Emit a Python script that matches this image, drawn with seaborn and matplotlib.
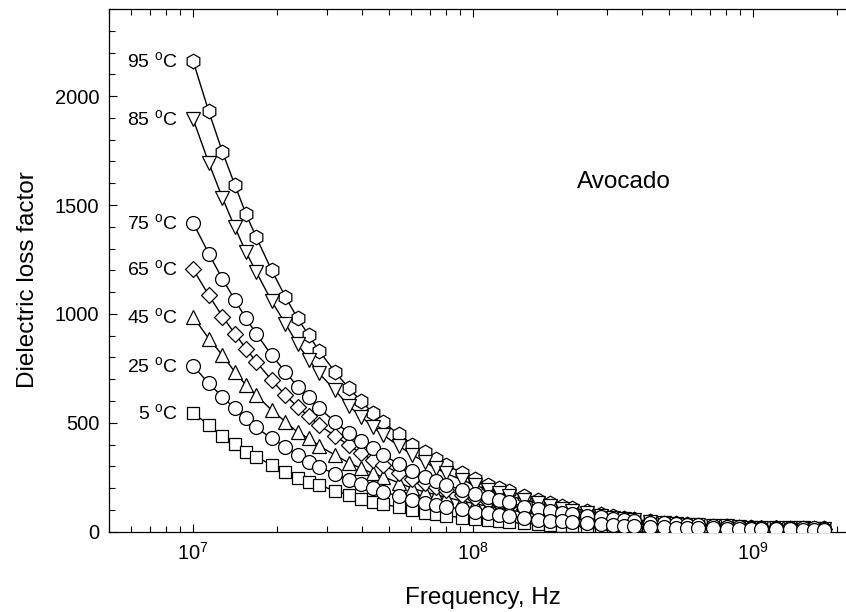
import matplotlib
matplotlib.use('Agg')
import numpy as np
import matplotlib.pyplot as plt
from matplotlib.ticker import MultipleLocator
import seaborn as sns

# ── data ──────────────────────────────────────────────────
freq_mhz = [10, 11.36, 12.72, 14.07, 15.43, 16.79, 19.07, 21.35, 23.62, 25.90,
            28.18, 32.08, 35.99, 39.89, 43.80, 47.70, 54.18, 60.66, 67.14, 73.62,
            80.10, 90.98, 101.86, 112.74, 123.62, 134.5, 152.6, 170.8, 188.9, 207.1,
            225.2, 255.5, 285.8, 316.2, 346.5, 376.8, 428.4, 479.9, 531.5, 583.0,
            634.6, 721.3, 808.0, 894.6, 981.3, 1068, 1213.4, 1358.8, 1504.2, 1649.6,
            1795]

loss_95 = [2159, 1930, 1743, 1594, 1459, 1352, 1200, 1078, 979, 901,
           830, 734, 659, 598, 546, 503, 448, 399, 364, 332,
           306, 271, 242, 215, 200, 188, 162, 146, 133, 118,
           107, 95, 82, 70, 63, 57, 48, 42, 38, 35,
           33, 28, 26, 23, 21, 19, 18, 17, 16, 15, 15]
loss_85 = [1893, 1694, 1532, 1399, 1284, 1193, 1058, 955, 860, 790,
           727, 650, 577, 528, 482, 444, 395, 352, 321, 291,
           268, 238, 214, 192, 178, 166, 145, 130, 118, 106,
           96, 85, 74, 64, 57, 52, 44, 39, 35, 32,
           30, 26, 24, 21, 19, 18, 17, 16, 15, 14, 14]
loss_75 = [1417, 1277, 1160, 1065, 979, 910, 810, 734, 665, 617,
           567, 505, 452, 417, 384, 352, 312, 281, 252, 231,
           216, 191, 174, 158, 145, 135, 113, 102, 94, 86,
           80, 74, 66, 59, 53, 49, 42, 38, 34, 31,
           30, 26, 23, 20, 19, 18, 17, 16, 15, 15, 14]
loss_65 = [1204, 1086, 988, 910, 841, 780, 696, 627, 572, 530,
           489, 441, 396, 360, 328, 305, 270, 244, 224, 206,
           191, 170, 155, 141, 130, 121, 106, 95, 86, 78,
           72, 63, 56, 50, 46, 42, 36, 32, 29, 27,
           25, 22, 20, 18, 17, 16, 15, 14, 13, 13, 12]
loss_45 = [986, 887, 810, 734, 673, 627, 558, 505, 456, 428,
           394, 352, 316, 291, 268, 252, 225, 199, 183, 170,
           158, 141, 128, 117, 108, 100, 88, 79, 72, 65,
           60, 53, 47, 42, 38, 35, 30, 27, 25, 23,
           21, 19, 17, 16, 15, 14, 13, 12, 12, 11, 11]
loss_25 = [761, 681, 619, 566, 520, 479, 428, 390, 352, 321,
           298, 265, 237, 217, 199, 183, 164, 145, 130, 122,
           115, 103, 92, 84, 77, 71, 63, 56, 51, 47,
           43, 38, 34, 30, 28, 26, 23, 21, 19, 18,
           17, 15, 14, 13, 12, 12, 11, 11, 10, 10, 10]
loss_5 = [546, 489, 439, 402, 367, 344, 306, 275, 245, 229,
          214, 188, 168, 150, 138, 127, 112, 98, 86, 79,
          73, 65, 57, 52, 47, 43, 38, 34, 31, 28,
          26, 23, 20, 18, 17, 16, 14, 13, 12, 11,
          11, 10, 9, 9, 8, 8, 8, 7, 7, 7, 7]

temps = ['5', '25', '45', '65', '75', '85', '95']
series = [loss_5, loss_25, loss_45, loss_65, loss_75, loss_85, loss_95]
markers = ['s', 'o', '^', 'D', 'o', 'v', 'h']
msizes = [8.5, 10, 10, 8.3, 10, 10, 10.5]
zorders = [2, 8, 5, 6, 7, 4, 3]

# ── style ─────────────────────────────────────────────────
sns.set_style('ticks')
plt.rcParams['font.family'] = ['Liberation Sans', 'DejaVu Sans']
plt.rcParams['mathtext.fontset'] = 'custom'
plt.rcParams['mathtext.rm'] = 'Liberation Sans'
plt.rcParams['mathtext.it'] = 'Liberation Sans:italic'
plt.rcParams['mathtext.bf'] = 'Liberation Sans:bold'
for key in ['text.color', 'axes.labelcolor', 'xtick.color', 'ytick.color',
            'axes.edgecolor']:
    plt.rcParams[key] = 'black'

fig = plt.figure(figsize=(8.46, 6.12), dpi=100)
fig.patch.set_facecolor('white')
ax = fig.add_axes([109 / 846, 80.3 / 612, 737 / 846, 522.7 / 612])
ax.set_xscale('log')

freq_hz = np.array(freq_mhz) * 1e6
for t, vals, mk, ms, z in zip(temps, series, markers, msizes, zorders):
    sns.lineplot(x=freq_hz, y=vals, ax=ax, color='black', linewidth=1.0,
                 marker=mk, markersize=ms, markerfacecolor='white',
                 markeredgecolor='black', markeredgewidth=0.9,
                 zorder=z, legend=False)
    ax.annotate(t + r' $^{\rm o}$C', xy=(freq_hz[0], vals[0]),
                xytext=(-11, 0), textcoords='offset points',
                ha='right', va='center', fontsize=14, color='black')

ax.set_xlim(5e6, 2.15e9)
ax.set_ylim(0, 2400)
ax.yaxis.set_major_locator(MultipleLocator(500))
ax.yaxis.set_minor_locator(MultipleLocator(100))

ax.tick_params(which='both', direction='in', top=True, right=False,
               labelsize=14.5, width=0.8, color='black', labelcolor='black')
ax.tick_params(which='major', length=6, pad=7)
ax.tick_params(which='minor', length=4)
ax.spines['right'].set_visible(False)
for s in ['left', 'bottom', 'top']:
    ax.spines[s].set_linewidth(0.9)
    ax.spines[s].set_color('black')

ax.set_xlabel('Frequency, Hz', fontsize=17.5, color='black')
ax.xaxis.set_label_coords(0.507, -0.127)
ax.xaxis.label.set_va('center')
ax.set_ylabel('Dielectric loss factor', fontsize=17.5, color='black')
ax.yaxis.set_label_coords(-0.110, 0.4815)
ax.yaxis.label.set_va('center')

ax.text(0.699, 0.669, 'Avocado', transform=ax.transAxes,
        ha='center', va='center', fontsize=17.5, color='black')

fig.savefig('out.png', dpi=100, facecolor='white')
